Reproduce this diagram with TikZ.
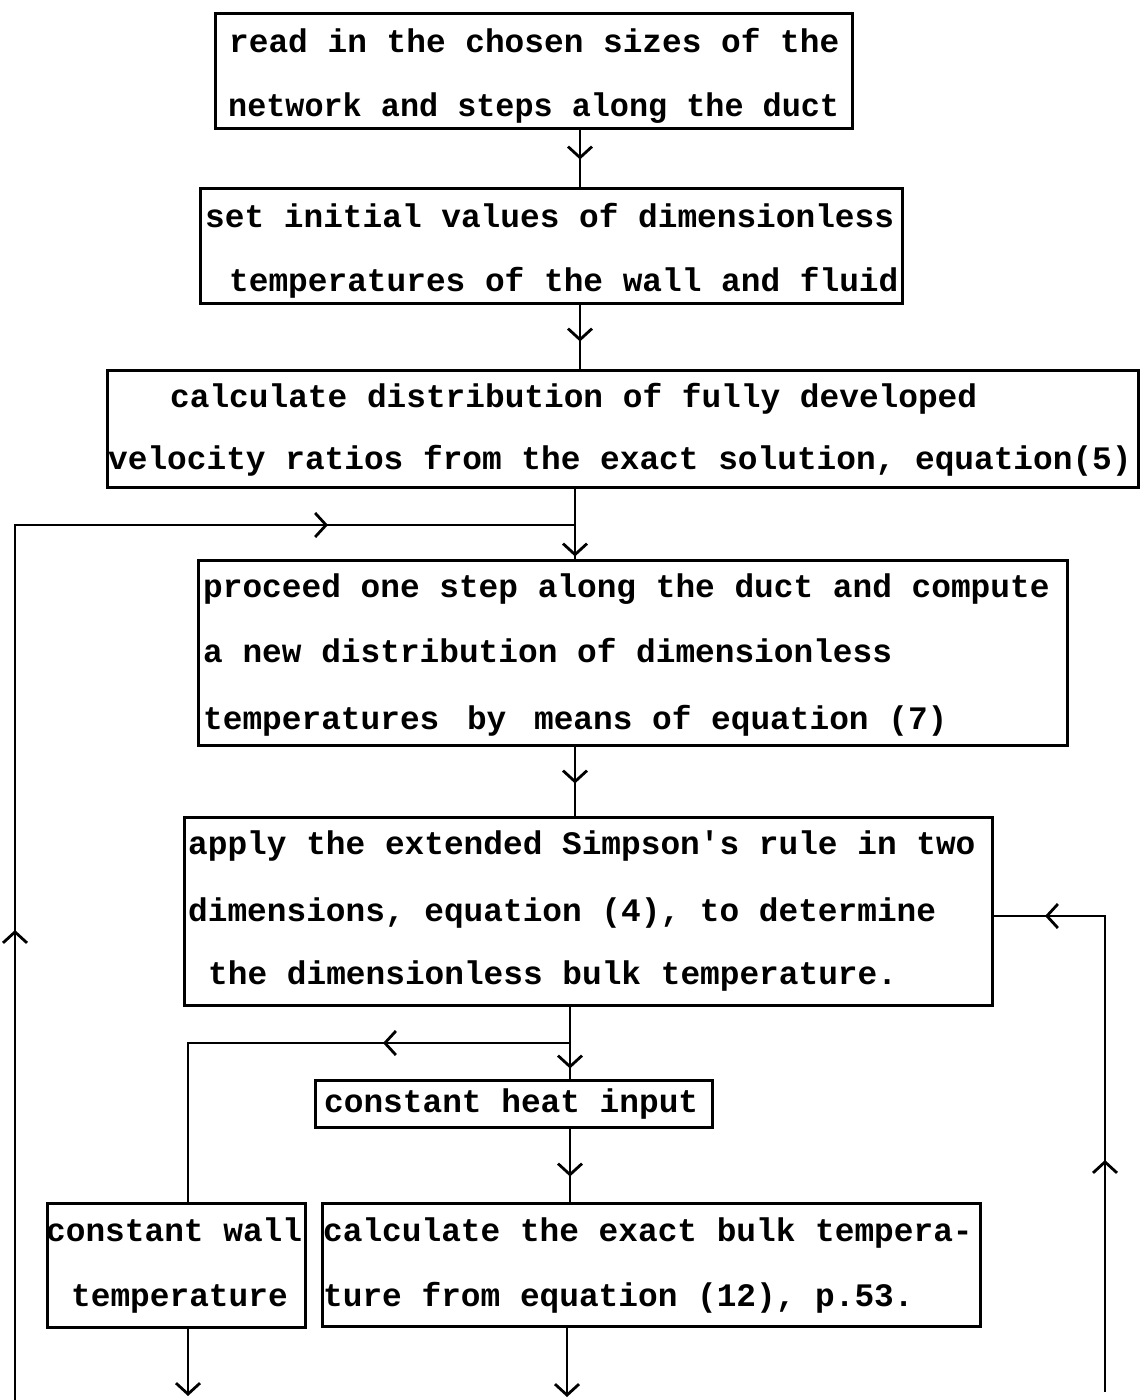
\documentclass[tikz,border=0pt]{standalone}
\usepackage{fontspec}
\usepackage{graphicx}
\usetikzlibrary{arrows.meta,decorations.markings}
\newfontfamily\tw{Liberation Mono Bold}
\tikzset{
  >={Straight Barb[length=11pt,width=24pt]},
  box/.style={draw, line width=3pt, rectangle, inner sep=0pt},
  txt/.style={inner sep=0pt, anchor=base west, font={\tw\fontsize{32.8pt}{40pt}\selectfont}},
  flow/.style={line width=2.8pt},
  arr/.style={postaction={decorate, decoration={markings, mark=at position #1 with {\arrow{>}}}}},
}
\begin{document}
\begin{tikzpicture}[x=1pt,y=-1pt]
\useasboundingbox (0,0) rectangle (1141,1400);
\fill[white] (0,0) rectangle (1141,1400);

% boxes
\node[box, minimum width=637pt, minimum height=115pt] (b1) at (533.5,70.5) {};
\node[box, minimum width=702pt, minimum height=115pt] (b2) at (551,245.5) {};
\node[box, minimum width=1031pt, minimum height=117pt] (b3) at (622.5,428.5) {};
\node[box, minimum width=869pt, minimum height=185pt] (b4) at (632.5,652.5) {};
\node[box, minimum width=808pt, minimum height=188pt] (b5) at (588,911) {};
\node[box, minimum width=397pt, minimum height=47pt] (hb) at (513.5,1103.5) {};
\node[box, minimum width=258pt, minimum height=124pt] (b6) at (176,1265) {};
\node[box, minimum width=658pt, minimum height=123pt] (b7) at (651,1264.5) {};

% texts
\node[txt] (t11) at (229,52) {read in the chosen sizes of the};
\node[txt] (t12) at (228,116) {\scalebox{0.97}[1]{network and steps along the duct}};
\node[txt] (t21) at (205,227) {set initial values of dimensionless};
\node[txt] (t22) at (229,291) {temperatures of the wall and fluid};
\node[txt] (t31) at (170,407) {calculate distribution of fully developed};
\node[txt] (t32) at (108,469) {velocity ratios from the exact solution, equation(5)};
\node[txt] (t41) at (203,597) {proceed one step along the duct and compute};
\node[txt] (t42) at (203,662) {a new distribution of dimensionless};
\node[txt] (t43) at (203,729) {temperatures\hspace{8pt} by\hspace{8pt} means of equation (7)};
\node[txt] (t51) at (188,854) {apply the extended Simpson's rule in two};
\node[txt] (t52) at (188,921) {dimensions, equation (4), to determine};
\node[txt] (t53) at (208,984) {the dimensionless bulk temperature.};
\node[txt] (th) at (324,1112) {constant heat input};
\node[txt] (t61) at (46,1241) {constant wall};
\node[txt] (t62) at (71,1306) {temperature};
\node[txt] (t71) at (323,1241) {calculate the exact bulk tempera-};
\node[txt] (t72) at (323,1306) {ture from equation (12), p.53.};

% helper coordinates
\coordinate (s1) at (580,0);
\coordinate (s2) at (575,0);
\coordinate (s3) at (570,0);
\coordinate (s4) at (567,0);
\coordinate (br) at (570,1043);
\coordinate (brl) at (188,1043);
\coordinate (e6) at (188,1396);
\coordinate (e7) at (567,1397);
\coordinate (lb) at (15,1400);
\coordinate (lt) at (15,525);
\coordinate (j1) at (575,525);
\coordinate (rb) at (1105,1392);
\coordinate (rt) at (1105,916);

% connectors
\draw[flow, arr=30pt] (b1.south -| s1) -- (b2.north -| s1);
\draw[flow, arr=37pt] (b2.south -| s1) -- (b3.north -| s1);
\draw[flow, arr=68pt] (b3.south -| s2) -- (b4.north -| s2);
\draw[flow, arr=37pt] (b4.south -| s2) -- (b5.north -| s2);
\draw[flow, arr=62pt] (b5.south -| s3) -- (hb.north -| s3);
\draw[flow, arr=187pt] (br) -- (brl) -- (b6.north -| brl);
\draw[flow, arr=48pt] (hb.south -| s3) -- (b7.north -| s3);
\draw[flow, ->] (b6.south -| e6) -- (e6);
\draw[flow, ->] (b7.south -| s4) -- (e7);
\draw[flow, arr=470pt, arr=1188pt] (lb) -- (lt) -- (j1);
\draw[flow, arr=232pt, arr=536pt] (rb) -- (rt) -- (b5.east |- rt);
\end{tikzpicture}
\end{document}
